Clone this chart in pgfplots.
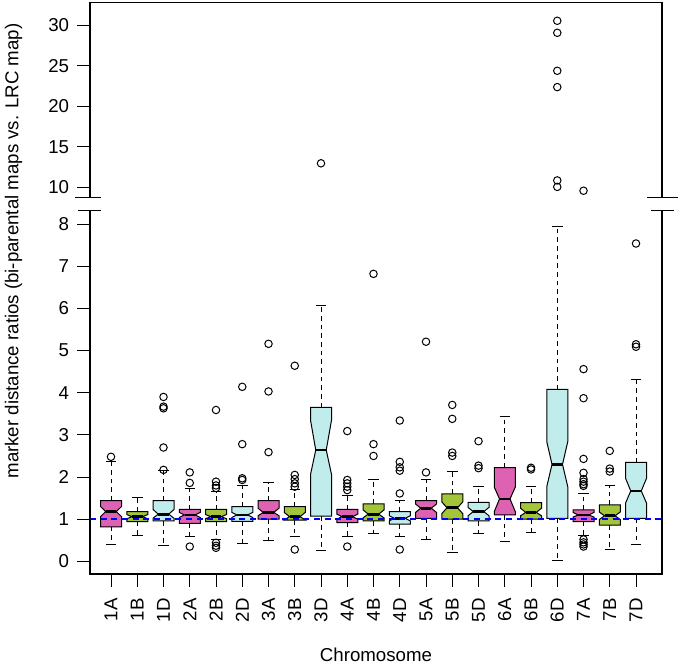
\documentclass[border=0pt]{standalone}
\usepackage{pgfplots}
\pgfplotsset{compat=1.18}
\usepackage{fontspec}
\setmainfont{Liberation Sans}
\definecolor{pinkbox}{RGB}{222,98,178}
\definecolor{greenbox}{RGB}{162,197,58}
\definecolor{cyanbox}{RGB}{192,236,236}
\definecolor{refblue}{RGB}{0,0,255}
\pgfplotsset{
  whisk/.style={black, line width=0.75pt, dash pattern=on 3.5pt off 3pt},
  capst/.style={black, line width=0.75pt},
}
% #1 x, #2 q1, #3 notch lo, #4 median, #5 notch hi, #6 q3, #7 lower whisker, #8 upper whisker, #9 colour
\newcommand{\nbox}[9]{%
  \pgfmathsetmacro{\xl}{#1-0.4}\pgfmathsetmacro{\xr}{#1+0.4}%
  \pgfmathsetmacro{\xil}{#1-0.2}\pgfmathsetmacro{\xir}{#1+0.2}%
  \addplot[whisk] coordinates {(#1,#6) (#1,#8)};
  \addplot[whisk] coordinates {(#1,#2) (#1,#7)};
  \addplot[capst] coordinates {(\xil,#8) (\xir,#8)};
  \addplot[capst] coordinates {(\xil,#7) (\xir,#7)};
  \addplot[fill=#9, draw=black, line width=0.75pt, line join=miter] coordinates {(\xl,#2) (\xr,#2) (\xr,#3) (\xir,#4) (\xr,#5) (\xr,#6) (\xl,#6) (\xl,#5) (\xil,#4) (\xl,#3)} -- cycle;
  \addplot[black, line width=2.1pt] coordinates {(\xil,#4) (\xir,#4)};
}
\begin{document}
\begin{tikzpicture}
\begin{scope}[x=0.75pt,y=0.75pt,shift={(-67.5pt,-68.25pt)}]
\path[use as bounding box] (0,0) rectangle (680,665);
\end{scope}
\begin{axis}[name=lower, at={(0pt,0pt)}, anchor=south west, scale only axis,
  width=429pt, height=272.625pt,
  xmin=-0.8, xmax=20.99, ymin=-0.301, ymax=8.323,
  axis line style={draw=none},
  tick pos=left, tick align=outside, major tick length=9.5pt,
  tick style={black, line width=0.75pt},
  xtick={0,...,20},
  xticklabels={1A,1B,1D,2A,2B,2D,3A,3B,3D,4A,4B,4D,5A,5B,5D,6A,6B,6D,7A,7B,7D},
  ytick={0,1,2,3,4,5,6,7,8},
  ticklabel style={font=\fontsize{14}{16}\selectfont},
  xticklabel style={rotate=90, anchor=east, inner xsep=8.5pt},
  yticklabel style={inner xsep=6pt},
  /pgf/number format/assume math mode=true,
  clip=false]
\nbox{0}{0.82}{1.06}{1.18}{1.30}{1.44}{0.40}{2.36}{pinkbox}
\nbox{1}{0.94}{1.01}{1.06}{1.11}{1.18}{0.62}{1.52}{greenbox}
\nbox{2}{0.96}{1.02}{1.12}{1.23}{1.44}{0.37}{2.15}{cyanbox}
\nbox{3}{0.90}{1.04}{1.10}{1.16}{1.23}{0.58}{1.73}{pinkbox}
\nbox{4}{0.94}{1.01}{1.06}{1.11}{1.23}{0.52}{1.65}{greenbox}
\nbox{5}{0.95}{1.04}{1.10}{1.16}{1.30}{0.43}{1.79}{cyanbox}
\nbox{6}{1.00}{1.08}{1.16}{1.26}{1.44}{0.50}{1.86}{pinkbox}
\nbox{7}{0.98}{0.98}{1.06}{1.16}{1.30}{0.58}{1.71}{greenbox}
\nbox{8}{1.07}{2.06}{2.64}{3.35}{3.65}{0.25}{6.06}{cyanbox}
\nbox{9}{0.92}{1.00}{1.06}{1.12}{1.23}{0.58}{1.57}{pinkbox}
\nbox{10}{0.96}{1.03}{1.12}{1.22}{1.36}{0.65}{1.95}{greenbox}
\nbox{11}{0.88}{0.96}{1.02}{1.08}{1.18}{0.58}{1.45}{cyanbox}
\nbox{12}{1.02}{1.16}{1.26}{1.36}{1.44}{0.52}{1.95}{pinkbox}
\nbox{13}{1.00}{1.13}{1.27}{1.41}{1.60}{0.20}{2.13}{greenbox}
\nbox{14}{0.96}{1.08}{1.18}{1.28}{1.40}{0.65}{1.77}{cyanbox}
\nbox{15}{1.10}{1.18}{1.48}{1.76}{2.22}{0.48}{3.43}{pinkbox}
\nbox{16}{1.00}{1.08}{1.16}{1.26}{1.39}{0.68}{1.77}{greenbox}
\nbox{17}{1.02}{1.77}{2.30}{2.84}{4.08}{0.03}{7.94}{cyanbox}
\nbox{18}{0.94}{1.05}{1.10}{1.16}{1.22}{0.62}{1.61}{pinkbox}
\nbox{19}{0.86}{0.99}{1.08}{1.17}{1.34}{0.28}{1.79}{greenbox}
\nbox{20}{1.02}{1.38}{1.67}{1.97}{2.35}{0.40}{4.32}{cyanbox}
\addplot[only marks, mark=o, mark size=2.8pt, line width=0.75pt, black] coordinates {
(0,2.48)
(2,2.17) (2,2.70) (2,3.63) (2,3.67) (2,3.90)
(3,2.11) (3,1.86) (3,0.35)
(4,3.59) (4,1.89) (4,1.80) (4,1.74) (4,0.44) (4,0.37) (4,0.32)
(5,4.14) (5,2.78) (5,1.97) (5,1.93)
(6,5.16) (6,4.03) (6,2.59)
(7,4.64) (7,2.05) (7,1.95) (7,1.85) (7,1.77) (7,0.28)
(9,3.09) (9,1.93) (9,1.85) (9,1.77) (9,1.69) (9,0.35)
(10,6.82) (10,2.78) (10,2.50)
(11,3.34) (11,2.36) (11,2.23) (11,2.15) (11,1.61) (11,0.28)
(12,5.21) (12,2.11)
(13,3.71) (13,3.38) (13,2.58) (13,2.50)
(14,2.85) (14,2.27) (14,2.21)
(16,2.22) (16,2.18)
(18,4.56) (18,3.87) (18,2.43) (18,2.10) (18,1.95) (18,1.89) (18,1.83) (18,1.79) (18,0.52) (18,0.45) (18,0.40) (18,0.35)
(19,2.62) (19,2.20) (19,2.13)
(20,7.54) (20,5.15) (20,5.09)
};
\addplot[color=refblue, draw=refblue, line width=1.1pt, dash pattern=on 4.5pt off 3.5pt] coordinates {(-0.8,1) (20.99,1)};
\end{axis}
\begin{axis}[name=upper, at={(0pt,282.225pt)}, anchor=south west, scale only axis,
  width=429pt, height=146.25pt,
  xmin=-0.8, xmax=20.99, ymin=8.72, ymax=32.75,
  axis line style={draw=none},
  tick pos=left, tick align=outside, major tick length=9.5pt,
  tick style={black, line width=0.75pt},
  xtick=\empty,
  ytick={10,15,20,25,30},
  ticklabel style={font=\fontsize{14}{16}\selectfont},
  yticklabel style={inner xsep=6pt},
  /pgf/number format/assume math mode=true]
\addplot[only marks, mark=o, mark size=2.8pt, line width=0.75pt, black] coordinates {
(8,12.96) (17,10.05) (17,10.85) (17,22.35) (17,24.36) (17,29.04) (17,30.52) (18,9.58)
};
\end{axis}
\begin{scope}[x=0.75pt,y=0.75pt,shift={(-67.5pt,-68.25pt)}]
\draw[line width=0.9pt] (90,454.5) -- (90,91) -- (662,91) -- (662,454.5);
\draw[line width=0.9pt] (90,467.3) -- (90,662.3) -- (662,662.3) -- (662,467.3);
\draw[line width=0.9pt] (78.3,454.5) -- (100.5,454.5);
\draw[line width=0.9pt] (651,454.5) -- (674,454.5);
\draw[line width=0.9pt] (75,467.3) -- (100.5,467.3);
\draw[line width=0.9pt] (647,467.3) -- (678,467.3);
\node[rotate=90, font=\fontsize{14}{16}\selectfont] at (13.5,414) {marker distance ratios (bi-parental maps vs. LRC map)};
\node[anchor=base, font=\fontsize{14}{16}\selectfont] at (376,3.5) {Chromosome};
\end{scope}
\end{tikzpicture}
\end{document}
